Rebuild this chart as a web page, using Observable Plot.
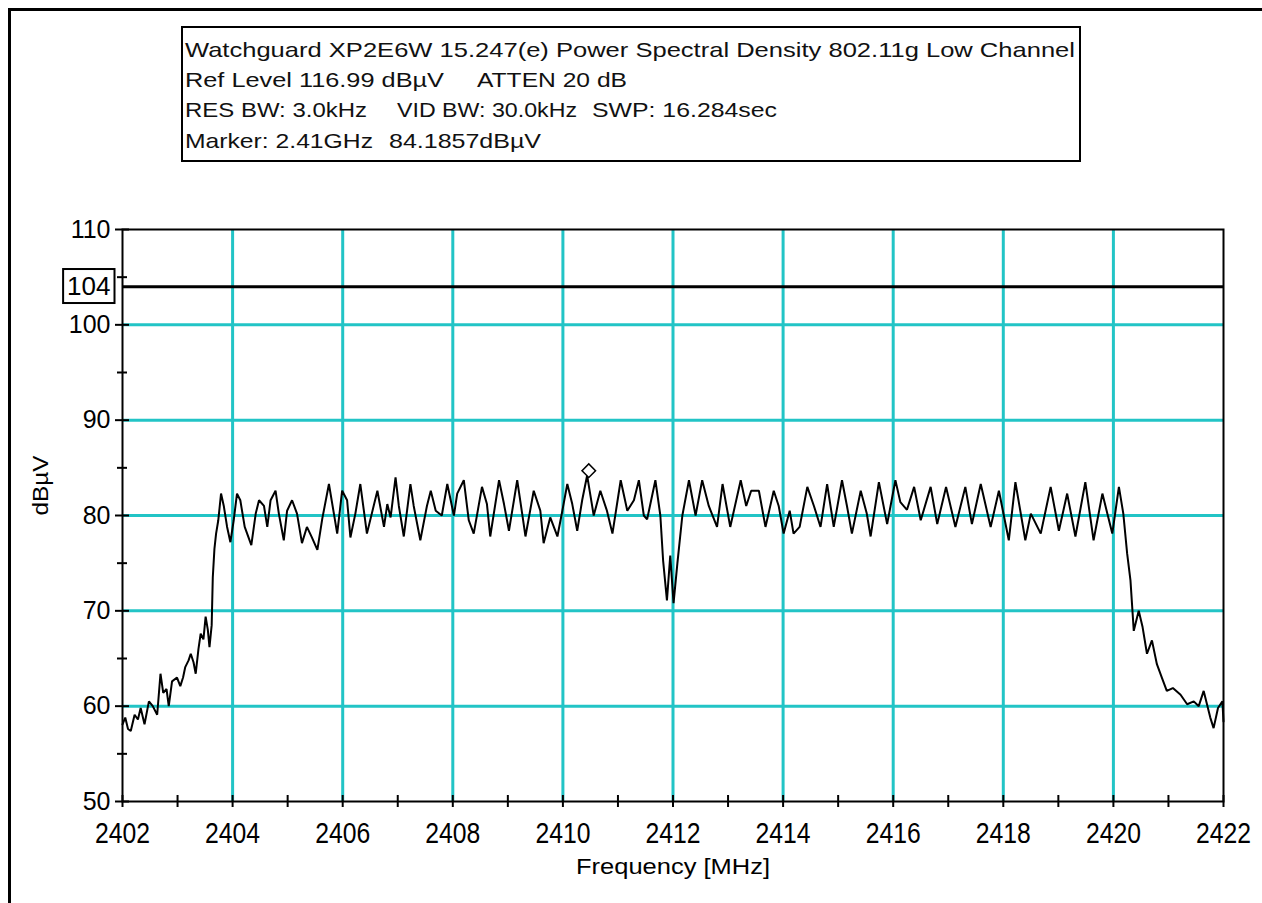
<!DOCTYPE html>
<html>
<head>
<meta charset="utf-8">
<script src="https://cdn.jsdelivr.net/npm/d3@7"></script>
<script src="https://cdn.jsdelivr.net/npm/@observablehq/plot@0.6"></script>
<style>
  html, body { margin: 0; padding: 0; background: #fff; }
  #page { position: relative; width: 1262px; height: 903px; overflow: hidden; background: #fff;
          font-family: "Liberation Sans", Arial, sans-serif; }
  #bt { position: absolute; left: 8px; top: 8px; width: 1254px; height: 3px; background: #000; z-index: 5; }
  #bl { position: absolute; left: 8px; top: 8px; width: 3px; height: 895px; background: #000; z-index: 5; }
  #chart { position: absolute; left: 0; top: 200px; }
</style>
</head>
<body>
<div id="page"><div id="bt"></div><div id="bl"></div></div>
<script>
// ---------------- data ----------------
const freqMHz = [
  2402.00,2402.05,2402.10,2402.15,2402.22,2402.28,2402.33,2402.40,2402.48,2402.55,
  2402.63,2402.69,2402.74,2402.80,2402.84,2402.90,2402.99,2403.05,2403.10,2403.14,
  2403.20,2403.24,2403.29,2403.33,2403.38,2403.42,2403.47,2403.51,2403.55,2403.58,
  2403.62,2403.64,2403.67,2403.70,2403.74,2403.79,2403.84,2403.90,2403.96,2404.02,
  2404.08,2404.14,2404.22,2404.34,2404.42,2404.48,2404.57,2404.63,2404.69,2404.78,
  2404.84,2404.93,2404.99,2405.08,2405.17,2405.26,2405.35,2405.44,2405.54,2405.63,
  2405.75,2405.84,2405.90,2405.99,2406.08,2406.14,2406.23,2406.32,2406.44,2406.63,
  2406.75,2406.81,2406.87,2406.96,2407.02,2407.11,2407.23,2407.29,2407.41,2407.53,
  2407.60,2407.69,2407.80,2407.90,2408.02,2408.08,2408.20,2408.29,2408.38,2408.53,
  2408.62,2408.68,2408.84,2408.93,2409.02,2409.17,2409.26,2409.32,2409.47,2409.59,
  2409.65,2409.77,2409.90,2409.99,2410.08,2410.17,2410.26,2410.35,2410.44,2410.56,
  2410.68,2410.80,2410.90,2411.05,2411.17,2411.29,2411.38,2411.47,2411.53,2411.68,
  2411.77,2411.82,2411.89,2411.95,2412.01,2412.08,2412.17,2412.29,2412.41,2412.53,
  2412.65,2412.80,2412.90,2413.04,2413.23,2413.33,2413.42,2413.56,2413.68,2413.83,
  2413.92,2414.01,2414.12,2414.19,2414.30,2414.44,2414.56,2414.68,2414.80,2414.92,
  2415.07,2415.16,2415.25,2415.41,2415.52,2415.59,2415.74,2415.89,2416.04,2416.13,
  2416.25,2416.38,2416.50,2416.68,2416.80,2416.96,2417.13,2417.31,2417.43,2417.59,
  2417.77,2417.92,2418.10,2418.22,2418.40,2418.50,2418.68,2418.86,2419.01,2419.16,
  2419.31,2419.49,2419.64,2419.80,2419.98,2420.10,2420.18,2420.25,2420.31,2420.37,
  2420.46,2420.53,2420.61,2420.70,2420.79,2420.88,2420.97,2421.08,2421.22,2421.34,
  2421.46,2421.55,2421.64,2421.76,2421.82,2421.90,2421.98,2422.00
];
const levelDBuV = [
  58.1,58.8,57.6,57.4,59.1,58.6,59.8,58.1,60.5,60.0,
  59.1,63.4,61.4,61.8,60.0,62.6,63.0,62.1,63.0,64.1,
  64.8,65.5,64.6,63.4,66.0,67.6,67.0,69.4,68.0,66.2,
  68.5,73.5,76.5,78.1,79.5,82.3,81.0,78.8,77.2,79.5,
  82.3,81.6,78.8,76.9,80.2,81.6,81.0,78.8,81.6,82.6,
  80.2,77.4,80.5,81.6,80.2,77.1,78.8,77.7,76.4,79.7,
  83.3,80.2,78.1,82.6,81.6,77.7,80.2,83.3,78.1,82.6,
  78.8,81.2,79.8,84.0,81.0,77.8,83.3,81.0,77.4,81.0,
  82.6,80.5,80.0,83.3,80.0,82.3,83.7,79.5,78.1,83.0,
  81.2,77.8,83.7,81.2,78.4,83.7,80.2,77.8,82.6,80.5,
  77.1,79.8,77.8,80.5,83.3,81.2,78.4,81.6,84.2,80.0,
  82.6,80.5,78.1,83.7,80.5,81.6,83.7,80.0,79.6,83.7,
  80.0,75.3,71.1,75.8,70.8,75.0,80.0,83.7,80.0,83.7,
  81.0,78.8,83.3,78.8,83.7,81.0,82.6,82.6,78.8,82.6,
  81.0,78.1,80.5,78.1,78.8,83.0,81.0,78.8,83.3,78.8,
  83.7,81.0,78.1,82.6,80.2,77.8,83.5,79.1,83.7,81.4,
  80.6,83.0,79.5,83.0,79.1,83.0,78.8,83.0,79.1,83.3,
  78.8,82.6,77.4,83.5,77.4,80.2,78.1,83.0,78.4,82.3,
  77.8,83.5,77.4,82.3,78.1,83.0,80.2,76.0,73.2,67.9,
  70.0,68.3,65.5,66.9,64.4,63.0,61.6,61.9,61.2,60.2,
  60.5,60.0,61.6,58.8,57.7,59.8,60.5,58.4
];
const xTickLabels = [2402,2404,2406,2408,2410,2412,2414,2416,2418,2420,2422];
const xMinorTicks = [2403,2405,2407,2409,2411,2413,2415,2417,2419,2421];
const xGridLines  = [2404,2406,2408,2410,2412,2414,2416,2418,2420];
const yTickLabels = [50,60,70,80,90,100,110];
const yMinorTicks = [55,65,75,85,95,105];
const yGridLines  = [60,70,80,90,100];
const limitLevel  = [104];
const markerFreq  = [2410.47];
const markerLevel = [84.7];
const headerText = [
  "Watchguard XP2E6W 15.247(e) Power Spectral Density 802.11g Low Channel",
  "Ref Level 116.99 dBµV", "ATTEN 20 dB",
  "RES BW: 3.0kHz", "VID BW: 30.0kHz", "SWP: 16.284sec",
  "Marker: 2.41GHz", "84.1857dBµV"
];
const xLabel = "Frequency [MHz]";
const yLabel = "dBµV";

// ---------------- header box ----------------
const page = document.getElementById("page");
const header = d3.create("svg")
  .attr("width", 1262).attr("height", 200)
  .style("position", "absolute").style("left", "0px").style("top", "0px");
header.append("rect")
  .attr("x", 182).attr("y", 27).attr("width", 898).attr("height", 134)
  .attr("fill", "none").attr("stroke", "#000").attr("stroke-width", 2);
// [text index, x, baseline, length]
const headerLayout = [
  [0, 185, 57, 890],
  [1, 185, 87, 259], [2, 477, 87, 150],
  [3, 185, 117, 182], [4, 397, 117, 180], [5, 592, 117, 185],
  [6, 185, 148, 188], [7, 389, 148, 152]
];
for (const [i, x, y, len] of headerLayout) {
  header.append("text")
    .attr("x", x).attr("y", y)
    .attr("font-family", "'Liberation Sans', Arial, sans-serif")
    .attr("font-size", 21)
    .attr("fill", "#111")
    .attr("textLength", len).attr("lengthAdjust", "spacingAndGlyphs")
    .text(headerText[i]);
}
page.appendChild(header.node());

// ---------------- chart ----------------
const rows = freqMHz.map((f, i) => ({f, v: levelDBuV[i]}));
const marker = markerFreq.map((f, i) => ({f, v: markerLevel[i]}));
const teal = "#22c4c6";

const chart = Plot.plot({
  width: 1262,
  height: 703,
  marginTop: 29,
  marginBottom: 102,
  marginLeft: 122,
  marginRight: 39,
  style: {fontFamily: "'Liberation Sans', Arial, sans-serif", background: "#fff", color: "#000", overflow: "visible"},
  x: {domain: [2402, 2422]},
  y: {domain: [50, 110]},
  marks: [
    Plot.gridX(xGridLines, {stroke: teal, strokeOpacity: 1, strokeWidth: 3}),
    Plot.gridY(yGridLines, {stroke: teal, strokeOpacity: 1, strokeWidth: 3}),
    Plot.frame({stroke: "#000", strokeWidth: 2}),
    Plot.ruleY(limitLevel, {stroke: "#000", strokeWidth: 3}),
    Plot.line(rows, {x: "f", y: "v", stroke: "#000", strokeWidth: 2, strokeLinejoin: "miter"}),
    Plot.dot(marker, {x: "f", y: "v", symbol: "square", rotate: 45, r: 5.4, stroke: "#000", strokeWidth: 1.5, fill: "#fff"}),
    // y ticks crossing axis
    Plot.axisY(yTickLabels, {text: null, tickSize: 14, dx: 7, strokeWidth: 2, label: null}),
    Plot.axisY(yMinorTicks, {text: null, tickSize: 10, dx: 5, strokeWidth: 2, label: null}),
    Plot.axisY(yTickLabels, {tickSize: 0, tickPadding: 12, fontSize: 25, tickFormat: d => String(d), label: null}),
    // x ticks crossing axis
    Plot.axisX(xTickLabels, {text: null, tickSize: 12, dy: -6, strokeWidth: 2, label: null}),
    Plot.axisX(xMinorTicks, {text: null, tickSize: 12, dy: -6, strokeWidth: 2, label: null}),
    Plot.axisX(xTickLabels, {tickSize: 0, tickPadding: 21, fontSize: 29, tickFormat: d => String(d), label: null}),
    // limit label and axis titles
    Plot.text(limitLevel, {y: d => d, text: d => String(d), frameAnchor: "left", dx: -12, textAnchor: "end", fontSize: 26}),
    Plot.text([xLabel], {frameAnchor: "bottom", dy: 72, fontSize: 22}),
    Plot.text([yLabel], {frameAnchor: "left", rotate: -90, dx: -82, fontSize: 22})
  ]
});
const wrap = document.createElement("div");
wrap.id = "chart";
wrap.appendChild(chart);
page.appendChild(wrap);

// narrow the x tick labels, stretch axis titles and box the limit label
const sel = d3.select(chart);
const xLabelSet = new Set(xTickLabels.map(String));
sel.selectAll("text").filter(function() { return xLabelSet.has(this.textContent); })
  .attr("textLength", 55).attr("lengthAdjust", "spacingAndGlyphs");
sel.selectAll("text").filter(function() { return this.textContent === xLabel; })
  .attr("textLength", 194).attr("lengthAdjust", "spacingAndGlyphs");
sel.selectAll("text").filter(function() { return this.textContent === yLabel; })
  .attr("textLength", 60).attr("lengthAdjust", "spacingAndGlyphs");
sel.selectAll("text").filter(function() { return this.textContent === String(limitLevel[0]); })
  .each(function() {
    const b = this.getBBox();
    d3.select(this.parentNode).insert("rect", () => this)
      .attr("x", b.x - 4).attr("y", b.y - 2)
      .attr("width", b.width + 8).attr("height", b.height + 4)
      .attr("transform", this.getAttribute("transform"))
      .attr("fill", "#fff").attr("stroke", "#000").attr("stroke-width", 2);
  });
</script>
</body>
</html>
